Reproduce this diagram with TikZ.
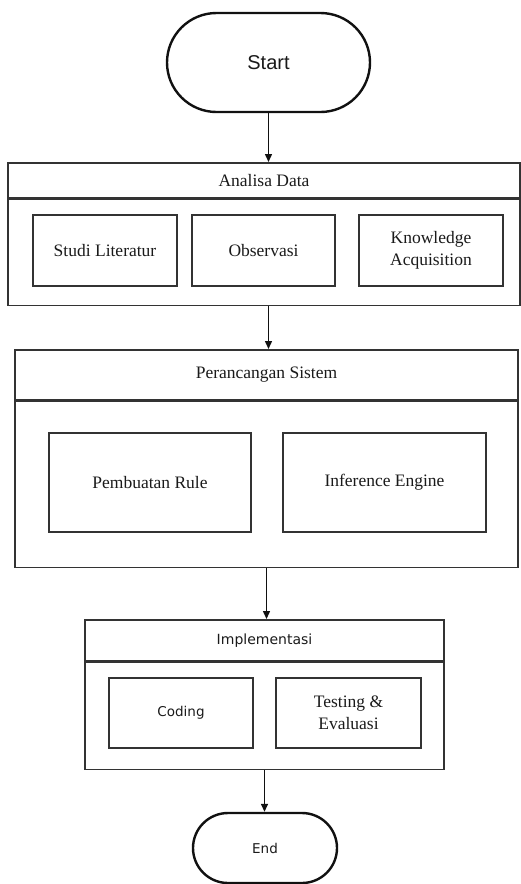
\documentclass[tikz,border=0pt]{standalone}
\usepackage{fontspec}
\usepackage{tikz}
\usetikzlibrary{positioning,shapes.misc,arrows.meta}
\setmainfont{Liberation Serif}
\newfontfamily\arialfont{Liberation Sans}
\newfontfamily\dejafont{DejaVu Sans}
\definecolor{linecol}{HTML}{333333}
\definecolor{textcol}{HTML}{1a1a1a}
\definecolor{termcol}{HTML}{111111}

\tikzset{
  terminal/.style={rounded rectangle, draw=termcol, line width=2.4pt, inner sep=0pt},
  secbox/.style={draw=linecol, line width=1.5pt, inner sep=0pt, minimum width=#1, anchor=north},
  subbox/.style={draw=linecol, line width=1.5pt, inner sep=0pt, align=center, text=textcol},
  serif/.style={font=\fontsize{17.5}{22}\selectfont},
  sansd/.style={font=\dejafont\fontsize{13.5}{16}\selectfont},
  flow/.style={-{Triangle[width=7pt,length=8pt]}, line width=1.4pt, draw=termcol}
}

\begin{document}
\begin{tikzpicture}[x=1pt, y=-1pt]
    \useasboundingbox (0,0) rectangle (521,884);
    % Start
    \node[terminal, minimum width=203, minimum height=99, text=textcol,
      font=\arialfont\fontsize{20}{24}\selectfont] (start) at (268.5, 62.5) {Start};
    % Analisa Data
    \node[secbox=512, minimum height=35, serif, text=textcol] (anaHead) at (264, 162) {Analisa Data};
    \node[secbox=512, minimum height=106, below=0pt of anaHead] (anaBody) {};
    \node[subbox, serif, minimum width=144, minimum height=71] (studi) at (105, 250.5) {Studi Literatur};
    \node[subbox, serif, minimum width=143, minimum height=71] (obs) at (263.5, 250.5) {Observasi};
    \node[subbox, serif, minimum width=144, minimum height=71] (know) at (431, 250.5) {Knowledge\\Acquisition};
    % Perancangan Sistem
    \node[secbox=503, minimum height=50, serif, text=textcol] (perHead) at (266.5, 349) {Perancangan Sistem};
    \node[secbox=503, minimum height=166, below=0pt of perHead] (perBody) {};
    \node[subbox, serif, minimum width=202, minimum height=99] (rule) at (150, 482.5) {Pembuatan Rule};
    \node[subbox, serif, minimum width=203, minimum height=99] (infer) at (384.5, 482.5) {Inference Engine};
    % Implementasi
    \node[secbox=359, minimum height=41, text=textcol,
      font=\dejafont\fontsize{14}{17}\selectfont] (impHead) at (264.5, 619) {Implementasi};
    \node[secbox=359, minimum height=107, below=0pt of impHead] (impBody) {};
    \node[subbox, sansd, minimum width=144, minimum height=70] (coding) at (181, 713) {Coding};
    \node[subbox, serif, minimum width=145, minimum height=70] (testing) at (348.5, 713) {Testing \&\\Evaluasi};
    % End
    \node[terminal, sansd, minimum width=144, minimum height=70, text=textcol] (stop) at (265, 848) {End};
    % arrows
    \draw[flow] (start.south) -- (start.south |- anaHead.north);
    \draw[flow] (anaBody.south -| start.south) -- (start.south |- perHead.north);
    \draw[flow] (perBody.south) -- (perBody.south |- impHead.north);
    \draw[flow] (impBody.south) -- (impBody.south |- stop.north);
\end{tikzpicture}
\end{document}
